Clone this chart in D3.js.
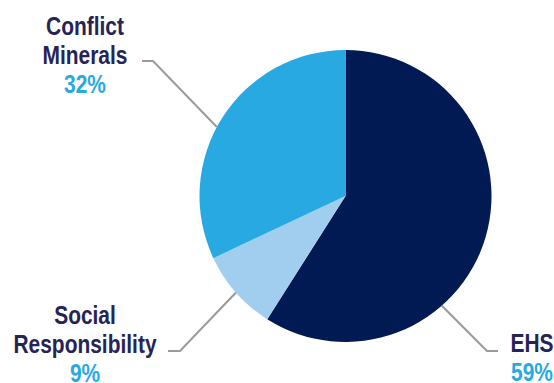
<!DOCTYPE html>
<html>
<head>
<meta charset="utf-8">
<script src="https://cdn.jsdelivr.net/npm/d3@7"></script>
<style>
  html, body { margin: 0; padding: 0; background: #fff; }
  svg { display: block; }
</style>
</head>
<body>
<div id="chart"></div>
<script>
// data
var categories = ["EHS", "Social Responsibility", "Conflict Minerals"];
var shares = [59, 9, 32];
var nameLines = [["EHS"], ["Social", "Responsibility"], ["Conflict", "Minerals"]];

var width = 554, height = 383;
var cx = 345.5, cy = 196, radius = 146;

var colors = ["#011a54", "#a1cdef", "#29a9e1"];
var textColor = "#262457";
var pctColor = "#29a9e1";

// label layout: where the leader leaves the pie, its elbow, the text
var labelLayout = [
  { angle: 138.7, elbow: [487, 351], end: [498, 351], x: 532, y: 352 },
  { angle: 228.6, elbow: [180, 351], end: [168, 351], x: 85, y: 324 },
  { angle: 298.2, elbow: [153, 61], end: [142, 61], x: 85, y: 35 }
];
var lineHeight = 29;
var squeeze = 0.79; // no condensed face installed, so narrow the text by hand

var data = categories.map(function(c, i) {
  return { name: c, value: shares[i], lines: nameLines[i], layout: labelLayout[i], color: colors[i] };
});

var svg = d3.select("#chart").append("svg")
  .attr("width", width)
  .attr("height", height)
  .attr("font-family", "'Liberation Sans', Arial, sans-serif")
  .attr("font-weight", "bold")
  .attr("font-size", 26.5);

var pie = d3.pie().sort(null).value(function(d) { return d.value; });
var arc = d3.arc().innerRadius(0).outerRadius(radius);

var g = svg.append("g").attr("transform", "translate(" + cx + "," + cy + ")");

g.selectAll("path")
  .data(pie(data))
  .enter().append("path")
  .attr("d", arc)
  .attr("fill", function(d) { return d.data.color; });

// leader lines
svg.selectAll("polyline")
  .data(data)
  .enter().append("polyline")
  .attr("fill", "none")
  .attr("stroke", "#9a9a9a")
  .attr("stroke-width", 2)
  .attr("points", function(d) {
    var a = d.layout.angle * Math.PI / 180;
    var start = [cx + radius * Math.sin(a), cy - radius * Math.cos(a)];
    return [start, d.layout.elbow, d.layout.end].map(function(p) { return p.join(","); }).join(" ");
  });

// labels
var labels = svg.selectAll("text.label")
  .data(data)
  .enter().append("text")
  .attr("class", "label")
  .attr("text-anchor", "middle")
  .attr("transform", function(d) {
    return "translate(" + d.layout.x + "," + d.layout.y + ") scale(" + squeeze + ",1)";
  });

labels.each(function(d) {
  var t = d3.select(this);
  d.lines.forEach(function(line, i) {
    t.append("tspan")
      .attr("x", 0)
      .attr("y", i * lineHeight)
      .attr("fill", textColor)
      .text(line);
  });
  t.append("tspan")
    .attr("x", 0)
    .attr("y", d.lines.length * lineHeight)
    .attr("fill", pctColor)
    .text(d.value + "%");
});
</script>
</body>
</html>
